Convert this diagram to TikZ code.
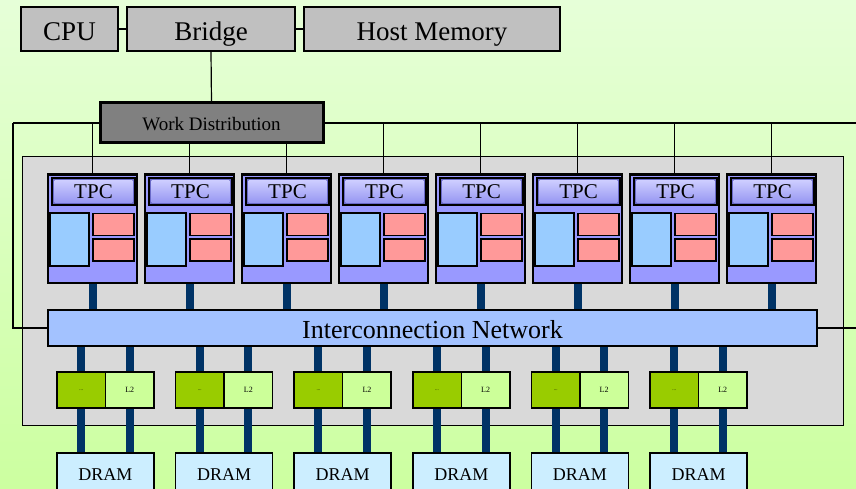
\documentclass[tikz,border=0pt]{standalone}
\usepackage{fontspec}
\setmainfont{Liberation Serif}
\definecolor{bgtop}{HTML}{E6FFD8}
\definecolor{bgbot}{HTML}{CCFFA0}
\definecolor{hostgray}{HTML}{C0C0C0}
\definecolor{wdgray}{HTML}{808080}
\definecolor{cont}{HTML}{D9D9D9}
\definecolor{tpcfill}{HTML}{9999FF}
\definecolor{hdrdark}{HTML}{6A6AC8}
\definecolor{hdrlight}{HTML}{CCCCFF}
\definecolor{hdrmid}{HTML}{9898F2}
\definecolor{smblue}{HTML}{99CCFF}
\definecolor{smpink}{HTML}{FF9999}
\definecolor{icnfill}{HTML}{A3C2FF}
\definecolor{bar}{HTML}{003366}
\definecolor{dgreen}{HTML}{99CC00}
\definecolor{lgreen}{HTML}{CCFF99}
\definecolor{dramfill}{HTML}{CCEEFF}
\tikzset{
  hostbox/.style={draw=black, line width=1.5pt, fill=hostgray, inner sep=0pt, minimum height=44pt, text height=23pt, text depth=0pt, font=\fontsize{27}{27}\selectfont},
  wdbox/.style={draw=black, line width=3pt, fill=wdgray, inner sep=0pt, minimum width=223pt, minimum height=40pt, text height=16pt, text depth=0pt, font=\fontsize{19}{19}\selectfont},
  wire/.style={draw=black, line width=1.2pt},
  tpcbox/.style={draw=black, line width=1.6pt, fill=tpcfill, inner sep=0pt, minimum width=89pt, minimum height=108pt},
  hdrbox/.style={draw=black, line width=1.6pt, fill=hdrdark, inner sep=0pt, minimum width=83pt, minimum height=27pt},
  hdrface/.style={top color=hdrlight, bottom color=hdrmid},
  hdrtext/.style={inner sep=0pt, text height=15pt, text depth=0pt, font=\fontsize{21}{21}\selectfont},
  bluebox/.style={draw=black, line width=1.3pt, fill=smblue, inner sep=0pt, minimum width=39pt, minimum height=53pt},
  pinkbox/.style={draw=black, line width=1.3pt, fill=smpink, inner sep=0pt, minimum width=41pt, minimum height=22pt},
  icnbox/.style={draw=black, line width=1.5pt, fill=icnfill, inner sep=0pt, minimum width=769pt, minimum height=36pt, text height=20pt, text depth=0pt, font=\fontsize{26}{26}\selectfont},
  busbar/.style={draw=bar, line width=8pt},
  darkl2/.style={draw=black, line width=1.5pt, fill=dgreen, inner sep=0pt, minimum width=48.5pt, minimum height=36pt, font=\fontsize{5}{5}\selectfont},
  lightl2/.style={draw=black, line width=1.5pt, fill=lgreen, inner sep=0pt, minimum width=48.5pt, minimum height=36pt, font=\fontsize{8}{8}\selectfont},
  drambox/.style={draw=black, line width=1.5pt, fill=dramfill, inner sep=0pt, minimum width=97pt, minimum height=42pt, text height=12pt, text depth=0pt, font=\fontsize{18}{18}\selectfont},
  contbox/.style={draw=black, line width=1pt, fill=cont, inner sep=0pt, minimum width=821pt, minimum height=268pt}
}
\begin{document}
\begin{tikzpicture}[x=1pt, y=-1pt]
\useasboundingbox (0,0) rectangle (856,489);
\clip (0,0) rectangle (856,489);
\fill[top color=bgtop, bottom color=bgbot] (0,0) rectangle (856,489);
% container
\node[contbox] (cont) at (432.5,291) {};
% host side
\node[hostbox, minimum width=97pt] (cpu) at (69.5,29) {CPU};
\node[hostbox, minimum width=168pt] (bridge) at (211,29) {Bridge};
\node[hostbox, minimum width=256pt] (host) at (432,29) {Host Memory};
\draw[wire] (cpu.east) -- (bridge.west);
\draw[wire] (bridge.east) -- (host.west);
% coordinates for wires
\coordinate (wl) at (13,123);
\coordinate (wr) at (856,123);
\coordinate (wlb) at (13,328);
\coordinate (wrb) at (856,328);
% TPCs
\foreach \i in {0,...,7}{
  \pgfmathsetmacro{\xo}{48+97*\i}
  \node[tpcbox] (tpc\i) at (\xo+44.5,229) {};
  \draw[line width=3pt] (tpc\i.north west) -- (tpc\i.north east);
  \node[hdrbox] (hdr\i) at (\xo+45.5,191.5) {};
  \fill[hdrface] ([shift={(3.5,3.5)}]hdr\i.north west) rectangle ([shift={(-3.5,-3.5)}]hdr\i.south east);
  \node[hdrtext] (hdrt\i) at (hdr\i.center) {TPC};
  \node[bluebox] (sb\i) at (\xo+21.5,239.5) {};
  \node[pinkbox] (pa\i) at (\xo+65.5,224.5) {};
  \node[pinkbox] (pb\i) at (\xo+65.5,250) {};
}
% interconnect
\node[icnbox] (icn) at (432.5,328) {Interconnection Network};
% work distribution wires
\draw[wire] (bridge.south) -- (211.5,103);
\draw[wire] (wl) -- (wr);
\draw[wire] (wl) -- (wlb) -- (icn.west);
\draw[wire] (icn.east) -- (wrb);
\foreach \i in {0,...,7}{
  \draw[wire] (tpc\i.north |- wl) -- (tpc\i.north);
  \draw[busbar] (tpc\i.south) -- (tpc\i.south |- icn.north);
}
\node[wdbox] (wd) at (211.5,123) {Work Distribution};
% L2 groups and DRAM
\foreach \j in {0,...,5}{
  \pgfmathsetmacro{\gx}{57+118.6*\j}
  \node[darkl2] (dk\j) at (\gx+24.25,390) {...};
  \node[lightl2] (lt\j) at (\gx+72.75,390) {L2};
  \node[drambox] (dram\j) at (\gx+48.5,474) {DRAM};
  \draw[busbar] (dk\j.north |- icn.south) -- (dk\j.north);
  \draw[busbar] (lt\j.north |- icn.south) -- (lt\j.north);
  \draw[busbar] (dk\j.south) -- (dk\j.south |- dram\j.north);
  \draw[busbar] (lt\j.south) -- (lt\j.south |- dram\j.north);
}
\end{tikzpicture}
\end{document}
